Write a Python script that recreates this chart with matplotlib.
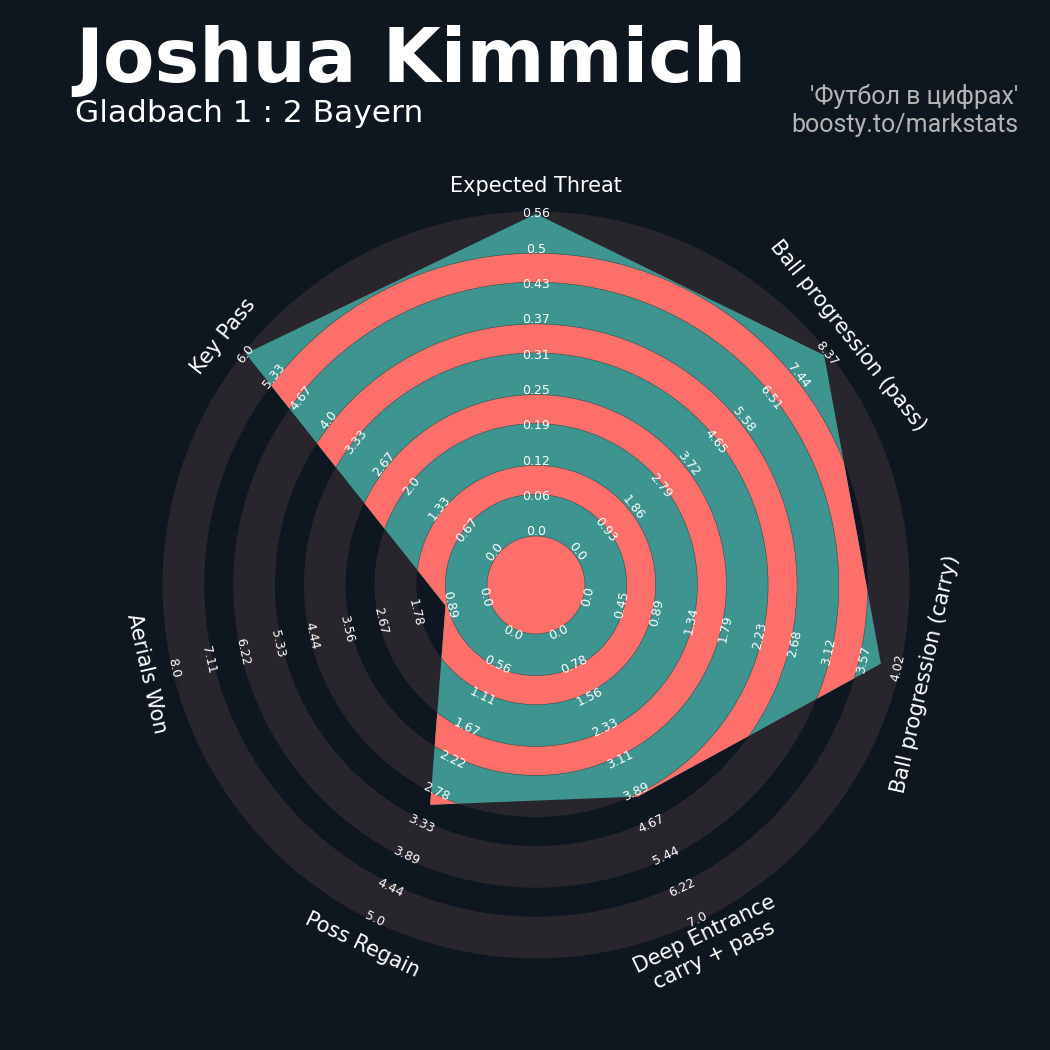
import numpy as np
import matplotlib
matplotlib.use('Agg')
import matplotlib.pyplot as plt
from matplotlib.patches import Polygon, Wedge, Circle

# ---------------- data ----------------
params = ['Expected Threat', 'Ball progression (pass)', 'Ball progression (carry)',
          'Deep Entrance\ncarry + pass', 'Poss Regain', 'Aerials Won', 'Key Pass']
min_range = [0.0, 0.0, 0.0, 0.0, 0.0, 0.0, 0.0]
max_range = [0.56, 8.37, 4.02, 7.0, 5.0, 8.0, 6.0]
values = [0.56, 8.3, 3.8, 4.0, 3.0, 1.0, 6.0]

labels_xt = ['0.0', '0.06', '0.12', '0.19', '0.25', '0.31', '0.37', '0.43', '0.5', '0.56']
labels_pass = ['0.0', '0.93', '1.86', '2.79', '3.72', '4.65', '5.58', '6.51', '7.44', '8.37']
labels_carry = ['0.0', '0.45', '0.89', '1.34', '1.79', '2.23', '2.68', '3.12', '3.57', '4.02']
labels_deep = ['0.0', '0.78', '1.56', '2.33', '3.11', '3.89', '4.67', '5.44', '6.22', '7.0']
labels_regain = ['0.0', '0.56', '1.11', '1.67', '2.22', '2.78', '3.33', '3.89', '4.44', '5.0']
labels_aerial = ['0.0', '0.89', '1.78', '2.67', '3.56', '4.44', '5.33', '6.22', '7.11', '8.0']
labels_key = ['0.0', '0.67', '1.33', '2.0', '2.67', '3.33', '4.0', '4.67', '5.33', '6.0']
range_labels = [labels_xt, labels_pass, labels_carry, labels_deep,
                labels_regain, labels_aerial, labels_key]

title = 'Joshua Kimmich'
subtitle = 'Gladbach 1 : 2 Bayern'
credit1 = "'Футбол в цифрах'"
credit2 = 'boosty.to/markstats'

# ---------------- style ----------------
BG = '#0e1720'
RING_BG = '#28252c'
GREEN = '#3e958f'
RED = '#ff6f69'

fig = plt.figure(figsize=(10.5, 10.5), dpi=100, facecolor=BG)
ax = fig.add_axes([0.10648, 0.03886, 0.808, 0.808])
ax.set_xlim(-12, 12)
ax.set_ylim(-12, 12)
ax.set_aspect('equal')
ax.axis('off')
ax.set_facecolor(BG)

r_min, r_max = 1.5, 10.5
ring_in = 1.385 + 2 * np.arange(5)
ring_out = 2.565 + 2 * np.arange(5)

# background rings
for a, b in zip(ring_in, ring_out):
    ax.add_patch(Wedge((0, 0), b, 0, 360, width=b - a, facecolor=RING_BG,
                       edgecolor='none', zorder=1))

n = len(params)
theta = np.pi / 2 - 2 * np.pi * np.arange(n) / n
mins = np.array(min_range)
maxs = np.array(max_range)
vals = np.array(values)
radii = r_min + (r_max - r_min) * (vals - mins) / (maxs - mins)
verts = np.column_stack([radii * np.cos(theta), radii * np.sin(theta)])
poly = Polygon(verts, closed=True, facecolor=GREEN, edgecolor='none', zorder=2)
ax.add_patch(poly)

# red bands inside the radar
red_in = np.concatenate([[0.0], ring_out[:-1]])
red_out = ring_in
for a, b in zip(red_in, red_out):
    if a == 0:
        p = Circle((0, 0), b, facecolor=RED, edgecolor='#2a4f4c', lw=0.4, zorder=3)
    else:
        p = Wedge((0, 0), b, 0, 360, width=b - a, facecolor=RED,
                  edgecolor='#2a4f4c', lw=0.4, zorder=3)
    ax.add_patch(p)
    p.set_clip_path(poly)

# rotations (tangential, kept readable)
rot = (np.rad2deg(theta) - 90 + 180) % 360 - 180
rot = np.where(rot < -90, rot + 180, rot)
rot = np.where(rot > 90, rot - 180, rot)

# range labels
for i in range(n):
    for k, lab in enumerate(range_labels[i]):
        r = r_min + k
        ax.text(r * np.cos(theta[i]), r * np.sin(theta[i]), lab, rotation=rot[i],
                ha='center', va='center', fontsize=9, color='white', zorder=5,
                rotation_mode='anchor')

# param labels
for i in range(n):
    r = 11.3
    ax.text(r * np.cos(theta[i]), r * np.sin(theta[i]), params[i], rotation=rot[i],
            ha='center', va='center', fontsize=15, color='white', zorder=5,
            rotation_mode='anchor', multialignment='center')

# titles
fig.text(75 / 1050, 1 - 82 / 1050, title, fontsize=54, fontweight='bold',
         color='white', va='baseline', ha='left')
fig.text(75 / 1050, 1 - 122 / 1050, subtitle, fontsize=22.5, color='white',
         va='baseline', ha='left')
fig.text(1018 / 1050, 1 - 104 / 1050, credit1, family=['Roboto', 'DejaVu Sans'],
         fontsize=18, color='#b4b4b4', ha='right', va='baseline')
fig.text(1018 / 1050, 1 - 132 / 1050, credit2, family=['Roboto', 'DejaVu Sans'],
         fontsize=18, color='#b4b4b4', ha='right', va='baseline')

fig.savefig('out.png', dpi=100, facecolor=BG)
